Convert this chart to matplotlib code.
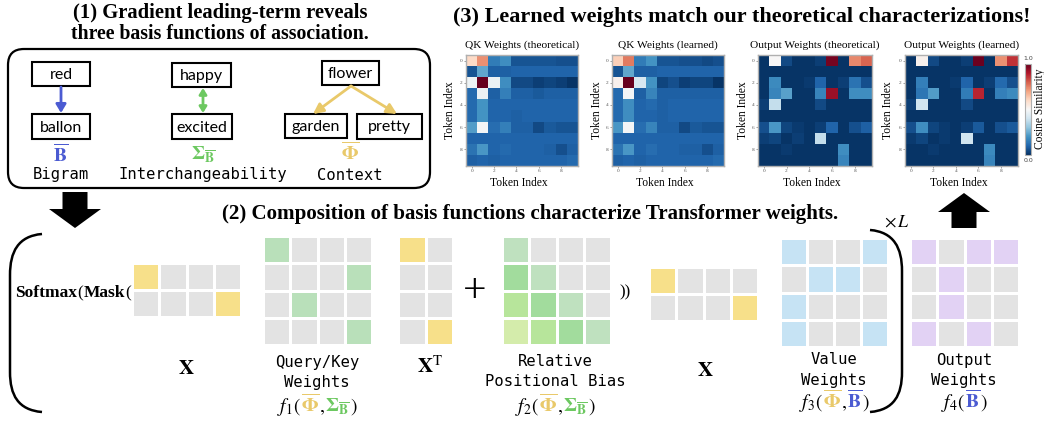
import numpy as np
import matplotlib
matplotlib.use('Agg')
import matplotlib.pyplot as plt
from matplotlib.colors import ListedColormap
from matplotlib.patches import FancyBboxPatch, Rectangle, Polygon, PathPatch
from matplotlib.path import Path

W, H = 1044, 423
plt.rcParams['font.family'] = ['Liberation Serif', 'DejaVu Sans']
plt.rcParams['mathtext.fontset'] = 'stix'

BLUE = '#4b5bd2'
GREEN = '#6cc860'
YELLOW = '#e9c96a'
GRAY = '#e3e3e3'

# ---- data ----
qk_theory = [
    [0.60, 0.73, 0.15, 0.19, 0.07, 0.07, 0.07, 0.07, 0.06, 0.06],
    [0.07, 0.24, 0.09, 0.09, 0.10, 0.10, 0.10, 0.10, 0.10, 0.10],
    [0.48, 1.00, 0.47, 0.19, 0.05, 0.05, 0.03, 0.04, 0.03, 0.01],
    [0.11, 0.47, 0.09, 0.16, 0.09, 0.09, 0.08, 0.09, 0.09, 0.09],
    [0.11, 0.20, 0.10, 0.10, 0.10, 0.10, 0.10, 0.10, 0.10, 0.10],
    [0.11, 0.20, 0.10, 0.10, 0.09, 0.10, 0.10, 0.10, 0.10, 0.10],
    [0.22, 0.49, 0.12, 0.16, 0.09, 0.09, 0.05, 0.08, 0.07, 0.07],
    [0.10, 0.10, 0.10, 0.10, 0.10, 0.10, 0.10, 0.10, 0.10, 0.10],
    [0.13, 0.21, 0.10, 0.11, 0.10, 0.10, 0.10, 0.09, 0.06, 0.09],
    [0.09, 0.10, 0.09, 0.10, 0.10, 0.10, 0.10, 0.10, 0.10, 0.11],
]
qk_learned = [
    [0.62, 0.76, 0.15, 0.20, 0.07, 0.07, 0.06, 0.06, 0.05, 0.06],
    [0.07, 0.24, 0.09, 0.09, 0.10, 0.10, 0.10, 0.10, 0.10, 0.10],
    [0.52, 1.00, 0.42, 0.20, 0.04, 0.06, 0.03, 0.04, 0.04, 0.01],
    [0.11, 0.49, 0.09, 0.17, 0.09, 0.09, 0.09, 0.09, 0.09, 0.09],
    [0.11, 0.19, 0.10, 0.11, 0.09, 0.10, 0.10, 0.10, 0.10, 0.10],
    [0.11, 0.19, 0.10, 0.10, 0.09, 0.10, 0.10, 0.10, 0.10, 0.10],
    [0.21, 0.49, 0.12, 0.17, 0.09, 0.09, 0.05, 0.08, 0.07, 0.07],
    [0.10, 0.10, 0.10, 0.10, 0.10, 0.10, 0.10, 0.10, 0.10, 0.10],
    [0.13, 0.21, 0.10, 0.12, 0.10, 0.10, 0.09, 0.09, 0.06, 0.09],
    [0.09, 0.10, 0.09, 0.10, 0.10, 0.10, 0.10, 0.10, 0.10, 0.11],
]
out_theory = [
    [0.01, 0.50, 0.05, 0.01, 0.01, 0.03, 0.98, 0.01, 0.74, 0.79],
    [0.01, 0.01, 0.01, 0.01, 0.01, 0.01, 0.01, 0.01, 0.01, 0.01],
    [0.01, 0.18, 0.01, 0.01, 0.02, 0.10, 0.01, 0.03, 0.13, 0.06],
    [0.01, 0.17, 0.23, 0.01, 0.01, 0.17, 0.93, 0.01, 0.19, 0.19],
    [0.03, 0.38, 0.01, 0.01, 0.01, 0.05, 0.01, 0.01, 0.01, 0.01],
    [0.01, 0.01, 0.01, 0.01, 0.01, 0.01, 0.01, 0.01, 0.01, 0.01],
    [0.06, 0.21, 0.04, 0.02, 0.01, 0.03, 0.10, 0.01, 0.06, 0.09],
    [0.03, 0.04, 0.01, 0.03, 0.01, 0.38, 0.01, 0.01, 0.01, 0.01],
    [0.01, 0.01, 0.02, 0.01, 0.01, 0.01, 0.01, 0.19, 0.01, 0.01],
    [0.01, 0.01, 0.01, 0.01, 0.01, 0.01, 0.01, 0.17, 0.01, 0.01],
]
out_learned = [
    [0.01, 0.52, 0.05, 0.01, 0.01, 0.03, 0.99, 0.01, 0.73, 0.86],
    [0.01, 0.01, 0.01, 0.01, 0.01, 0.01, 0.01, 0.01, 0.01, 0.01],
    [0.01, 0.16, 0.01, 0.01, 0.02, 0.10, 0.01, 0.03, 0.11, 0.06],
    [0.01, 0.14, 0.22, 0.01, 0.01, 0.15, 0.88, 0.01, 0.16, 0.18],
    [0.03, 0.40, 0.01, 0.01, 0.01, 0.05, 0.01, 0.01, 0.01, 0.01],
    [0.01, 0.01, 0.01, 0.01, 0.01, 0.01, 0.01, 0.01, 0.01, 0.01],
    [0.06, 0.19, 0.04, 0.02, 0.01, 0.03, 0.08, 0.01, 0.06, 0.08],
    [0.02, 0.04, 0.01, 0.02, 0.01, 0.40, 0.01, 0.01, 0.01, 0.01],
    [0.01, 0.01, 0.02, 0.01, 0.01, 0.01, 0.01, 0.18, 0.01, 0.01],
    [0.01, 0.01, 0.01, 0.01, 0.01, 0.01, 0.01, 0.17, 0.01, 0.01],
]
heat_titles = ['QK Weights (theoretical)', 'QK Weights (learned)',
               'Output Weights (theoretical)', 'Output Weights (learned)']

words = ['red', 'ballon', 'happy', 'excited', 'flower', 'garden', 'pretty']
assoc_names = ['Bigram', 'Interchangeability', 'Context']

# toy matrices: 0 = empty cell, 1.. = coloured level
x_cells = [[1, 0, 0, 0], [0, 0, 0, 1]]
xt_cells = [[1, 0], [0, 0], [0, 0], [0, 1]]
qk_cells = [[1, 0, 0, 0], [0, 0, 0, 1], [0, 1, 0, 0], [0, 0, 0, 1]]
rpb_cells = [[1, 0, 0, 0], [2, 1, 0, 0], [3, 2, 1, 0], [4, 3, 2, 1]]
value_cells = [[1, 0, 0, 1], [0, 1, 1, 0], [1, 0, 0, 0], [1, 0, 0, 1]]
output_cells = [[1, 0, 1, 1], [0, 1, 0, 0], [0, 1, 0, 0], [1, 0, 1, 0]]

fig = plt.figure(figsize=(W / 100, H / 100), dpi=100)
ax = fig.add_axes([0, 0, 1, 1])
ax.set_xlim(0, W)
ax.set_ylim(H, 0)
ax.axis('off')
renderer = fig.canvas.get_renderer()


def px_axes(x0, y0, x1, y1):
    return fig.add_axes([x0 / W, 1 - y1 / H, (x1 - x0) / W, (y1 - y0) / H])


def fit(t, width):
    w = t.get_window_extent(renderer).width
    t.set_fontsize(t.get_fontsize() * width / w)
    return t


def pieces(cx, y, parts, size, weights=None):
    # draw a row of differently coloured snippets, centred on cx
    objs = []
    for i, (s, c) in enumerate(parts):
        fw = weights[i] if weights else 'normal'
        objs.append(ax.text(0, y, s, color=c, fontsize=size, ha='left', va='baseline',
                            fontweight=fw))
    widths = [o.get_window_extent(renderer).width for o in objs]
    x = cx - sum(widths) / 2
    for o, w in zip(objs, widths):
        o.set_x(x)
        x += w


def grid(box, cells, colors):
    a = px_axes(*box)
    a.pcolormesh(np.array(cells), cmap=ListedColormap(colors), vmin=-0.5,
                 vmax=len(colors) - 0.5, edgecolors='white', linewidth=1.0)
    a.set_ylim(len(cells), 0)
    a.axis('off')


def block_arrow(cx, tail, tip, shaft=25, head=52, head_len=19):
    d = 1 if tip > tail else -1
    hb = tip - d * head_len
    pts = [(cx - shaft / 2, tail), (cx + shaft / 2, tail), (cx + shaft / 2, hb),
           (cx + head / 2, hb), (cx, tip), (cx - head / 2, hb), (cx - shaft / 2, hb)]
    ax.add_patch(Polygon(pts, closed=True, color='black', lw=0))


# ---- section titles ----
fit(ax.text(220, 13, '(1) Gradient leading-term reveals', ha='center', va='center',
            fontsize=13, fontweight='bold'), 294)
fit(ax.text(220, 34, 'three basis functions of association.', ha='center', va='center',
            fontsize=13, fontweight='bold'), 295)
fit(ax.text(742, 17, '(3) Learned weights match our theoretical characterizations!',
            ha='center', va='center', fontsize=13, fontweight='bold'), 575)
fit(ax.text(530, 214, '(2) Composition of basis functions characterize Transformer weights.',
            ha='center', va='center', fontsize=13, fontweight='bold'), 616)

# ---- panel (1) ----
ax.add_patch(FancyBboxPatch((8, 49), 422, 139, boxstyle='round,pad=0,rounding_size=16',
                            fc='none', ec='black', lw=1.6))
word_boxes = [(32, 62, 90, 86), (32, 114, 90, 139), (172, 63, 231, 87), (172, 114, 232, 139),
              (322, 61, 379, 85), (285, 114, 347, 138), (357, 114, 422, 139)]
for w, (x0, y0, x1, y1) in zip(words, word_boxes):
    ax.add_patch(Rectangle((x0, y0), x1 - x0, y1 - y0, fc='white', ec='black', lw=1.5))
    ax.text((x0 + x1) / 2, (y0 + y1) / 2 + 1, w, ha='center', va='center',
            fontsize=11.5, family='Lato')

ax.annotate('', xy=(61, 113), xytext=(61, 87),
            arrowprops=dict(arrowstyle='-|>,head_width=0.3,head_length=0.5', color=BLUE, lw=2,
                            shrinkA=0, shrinkB=0))
ax.annotate('', xy=(203, 113), xytext=(203, 88),
            arrowprops=dict(arrowstyle='<|-|>,head_width=0.22,head_length=0.35', color=GREEN, lw=2,
                            shrinkA=0, shrinkB=0))
for tx in (313, 397):
    ax.annotate('', xy=(tx, 114), xytext=(351, 86),
                arrowprops=dict(arrowstyle='-|>,head_width=0.3,head_length=0.6',
                                color=YELLOW, lw=2, shrinkA=0, shrinkB=0))

ax.text(61, 154, r'$\overline{\mathbf{B}}$', color=BLUE, fontsize=14, ha='center', va='center')
ax.text(203, 155, r'$\mathbf{\Sigma}_{\overline{\mathbf{B}}}$', color=GREEN, fontsize=14,
        ha='center', va='center')
ax.text(350, 152, r'$\overline{\mathbf{\Phi}}$', color=YELLOW, fontsize=14, ha='center', va='center')
for name, cx in zip(assoc_names, (61, 203, 350)):
    ax.text(cx, 175, name, ha='center', va='center', fontsize=11.2, family='DejaVu Sans Mono')

# ---- panel (3): heatmaps ----
heat_boxes = [(466, 55, 578, 166), (612, 55, 724, 166), (758, 55, 872, 166), (905, 55, 1018, 166)]
ylab_x = [450, 597, 743, 888]
for data, title, box, yx in zip([qk_theory, qk_learned, out_theory, out_learned],
                                heat_titles, heat_boxes, ylab_x):
    a = px_axes(*box)
    im = a.imshow(np.array(data), cmap='RdBu_r', vmin=0, vmax=1, aspect='auto',
                  interpolation='nearest')
    a.set_xticks(range(0, 10, 2))
    a.set_yticks(range(0, 10, 2))
    a.tick_params(labelsize=3.8, length=1.5, width=0.4, pad=1, colors='#555555')
    for s in a.spines.values():
        s.set_color('#b0b0b0')
        s.set_linewidth(1)
    cx = (box[0] + box[2]) / 2
    ax.text(cx, 45, title, ha='center', va='center', fontsize=8.2)
    ax.text(cx - 3, 183, 'Token Index', ha='center', va='center', fontsize=8.3)
    ax.text(yx, (box[1] + box[3]) / 2, 'Token Index', ha='center', va='center',
            fontsize=8.3, rotation=90)

cax = px_axes(1025, 64, 1031, 155)
cb = fig.colorbar(im, cax=cax)
cb.set_ticks([])
cb.outline.set_edgecolor('#b0b0b0')
ax.text(1028, 58, '1.0', ha='center', va='center', fontsize=4.5, color='#444444', family='DejaVu Sans')
ax.text(1028, 161, '0.0', ha='center', va='center', fontsize=4.5, color='#444444', family='DejaVu Sans')
ax.text(1040, 109, 'Cosine Similarity', ha='center', va='center', fontsize=8.3, rotation=90)

# ---- big arrows ----
block_arrow(75, 192, 228)
block_arrow(964, 228, 193)

# ---- panel (2) ----
lb = Path([(42, 234), (18, 236), (10, 252), (10, 275), (10, 372), (10, 395), (18, 410), (42, 412)],
          [Path.MOVETO, Path.CURVE4, Path.CURVE4, Path.CURVE4, Path.LINETO,
           Path.CURVE4, Path.CURVE4, Path.CURVE4])
ax.add_patch(PathPatch(lb, fc='none', ec='black', lw=1.8))
rb = Path([(870, 230), (894, 232), (902, 248), (902, 271), (902, 372), (902, 395), (894, 410), (870, 412)],
          [Path.MOVETO, Path.CURVE4, Path.CURVE4, Path.CURVE4, Path.LINETO,
           Path.CURVE4, Path.CURVE4, Path.CURVE4])
ax.add_patch(PathPatch(rb, fc='none', ec='black', lw=1.8))
ax.text(897, 222, r'$\times\,L$', ha='center', va='center', fontsize=13)

pieces(73, 297, [('Softmax', 'black'), ('(', 'black'), ('Mask', 'black'), ('(', 'black')], 12.5,
       weights=['bold', 'normal', 'bold', 'normal'])

grid((132, 263, 241, 317), x_cells, [GRAY, '#f7e08a'])
grid((263, 236, 372, 345), qk_cells, [GRAY, '#b9e0ba'])
grid((398, 236, 453, 345), xt_cells, [GRAY, '#f7e08a'])
grid((502, 236, 611, 345), rpb_cells, [GRAY, '#bfe1bf', '#a2dc9d', '#b7e59b', '#d4ecab'])
grid((649, 267, 758, 321), x_cells, [GRAY, '#f7e08a'])
grid((780, 238, 888, 347), value_cells, [GRAY, '#c6e3f4'])
grid((910, 238, 1019, 347), output_cells, [GRAY, '#e2d2f4'])

ax.text(475, 292, '+', ha='center', va='center', fontsize=30, family='Liberation Serif')
ax.text(625, 292, '))', ha='center', va='center', fontsize=12)

ax.text(186, 370, r'$\mathbf{X}$', ha='center', va='center', fontsize=15)
ax.text(430, 367, r'$\mathbf{X}^{\mathrm{T}}$', ha='center', va='center', fontsize=15)
ax.text(705, 372, r'$\mathbf{X}$', ha='center', va='center', fontsize=15)

mono = dict(ha='center', va='center', fontsize=11.2, family='DejaVu Sans Mono')
ax.text(317, 362, 'Query/Key', **mono)
ax.text(317, 382, 'Weights', **mono)
ax.text(555, 362, 'Relative', **mono)
ax.text(555, 382, 'Positional Bias', **mono)
ax.text(834, 360, 'Value', **mono)
ax.text(834, 381, 'Weights', **mono)
ax.text(964, 360, 'Output', **mono)
ax.text(964, 381, 'Weights', **mono)

PHI = r'$\overline{\mathbf{\Phi}}$'
SIG = r'$\mathbf{\Sigma}_{\overline{\mathbf{B}}}$'
BB = r'$\overline{\mathbf{B}}$'
pieces(317, 412, [(r'$f_1($', 'black'), (PHI, YELLOW), (r'$,$', 'black'), (SIG, GREEN), (r'$)$', 'black')], 14)
pieces(555, 412, [(r'$f_2($', 'black'), (PHI, YELLOW), (r'$,$', 'black'), (SIG, GREEN), (r'$)$', 'black')], 14)
pieces(834, 408, [(r'$f_3($', 'black'), (PHI, YELLOW), (r'$,$', 'black'), (BB, BLUE), (r'$)$', 'black')], 14)
pieces(964, 408, [(r'$f_4($', 'black'), (BB, BLUE), (r'$)$', 'black')], 14)

fig.savefig('out.png', dpi=100)
